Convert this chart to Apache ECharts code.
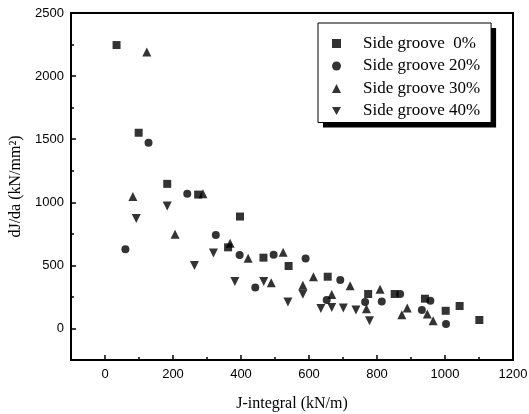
<!DOCTYPE html>
<html>
<head>
<meta charset="utf-8">
<script src="https://cdn.jsdelivr.net/npm/echarts@6/dist/echarts.min.js"></script>
<style>html,body{margin:0;padding:0;background:#fff}#c{width:529px;height:414px}</style>
</head>
<body>
<div id="c"></div>
<script>
var seriesNames = ['Side groove  0%', 'Side groove 20%', 'Side groove 30%', 'Side groove 40%'];
var groove0 = [[34,2246],[99,1551],[183,1146],[274,1061],[397,887],[362,643],[466,561],[540,495],[655,410],[774,273],[852,273],[941,236],[1002,140],[1043,178],[1101,67]];
var groove20 = [[60,627],[128,1471],[242,1067],[326,740],[396,582],[442,325],[496,585],[590,554],[652,225],[692,384],[765,209],[814,214],[868,273],[932,146],[957,220],[1003,35]];
var groove30 = [[82,1045],[123,2190],[206,746],[288,1067],[368,675],[421,556],[489,363],[524,603],[582,342],[613,410],[667,270],[721,339],[769,156],[809,310],[873,109],[889,162],[948,114],[965,61]];
var groove40 = [[92,871],[183,971],[263,498],[319,598],[382,373],[467,373],[538,210],[582,272],[635,159],[667,167],[701,162],[738,146],[778,61]];
var xTickLabels = [0,200,400,600,800,1000,1200];
var xMinorTicks = [100,300,500,700,900,1100];
var yTickLabels = [0,500,1000,1500,2000,2500];
var yMinorTicks = [-250,250,750,1250,1750,2250];

var chart = echarts.init(document.getElementById('c'), null, {renderer:'canvas'});
var serif = '"Liberation Serif","Times New Roman",serif';
var sans = '"Liberation Sans",Arial,sans-serif';
function plain(v){ return String(v); }
function xAxisBase(main){
  return {
    type:'value', min:-100, max:1200, interval:100, position:'bottom',
    axisLine:{show:main, onZero:false, lineStyle:{color:'#000', width:2}},
    splitLine:{show:false},
    axisTick:{show:true, inside:true, length: main?5:3, lineStyle:{color:'#000', width:1.5},
      customValues: main ? xTickLabels : xMinorTicks},
    axisLabel:{show:main, customValues: xTickLabels, formatter:plain, color:'#000', fontFamily:sans, fontSize:13, margin:8},
    name: main ? 'J-integral (kN/m)' : '', nameLocation:'middle', nameGap:36,
    nameTextStyle:{color:'#000', fontFamily:serif, fontSize:16}
  };
}
function yAxisBase(main){
  return {
    type:'value', min:-250, max:2500, interval:250, position:'left',
    axisLine:{show:main, onZero:false, lineStyle:{color:'#000', width:2}},
    splitLine:{show:false},
    axisTick:{show:true, inside:true, length: main?5:3, lineStyle:{color:'#000', width:1.5},
      customValues: main ? yTickLabels : yMinorTicks},
    axisLabel:{show:main, customValues: yTickLabels, formatter:plain, color:'#000', fontFamily:sans, fontSize:13, margin:7},
    name: main ? 'dJ/da (kN/mm\u00B2)' : '', nameLocation:'middle', nameGap:41,
    nameTextStyle:{color:'#000', fontFamily:serif, fontSize:16}
  };
}
var symbols = ['rect','circle','triangle','triangle'];
var legendIcons = ['rect','circle','triangle','path://M0,0 L10,0 L5,9 Z'];
var sizes = [8,8,9,9];
var rot = [0,0,0,180];
var datas = [groove0, groove20, groove30, groove40];
var series = datas.map(function(d,i){
  return {name:seriesNames[i], type:'scatter', data:d, symbol:symbols[i], symbolSize:sizes[i],
    symbolRotate:rot[i], itemStyle:{color:'#000'}, xAxisIndex:0, yAxisIndex:0};
});
var legendData = seriesNames.map(function(n,i){ return {name:n, icon:legendIcons[i]}; });
var legendBase = {
  orient:'vertical', left:318, top:23,
  padding:[12,11,3,14], itemGap:5.5, itemWidth:9, itemHeight:9,
  textStyle:{color:'#000', fontFamily:serif, fontSize:17, lineHeight:16, padding:[0,0,0,17]},
  data:legendData
};
var legendShadow = Object.assign({}, legendBase, {
  backgroundColor:'#fff', borderWidth:0,
  shadowColor:'#000', shadowBlur:0, shadowOffsetX:5, shadowOffsetY:5
});
var legendFrame = Object.assign({}, legendBase, {
  backgroundColor:'transparent', borderColor:'#000', borderWidth:1,
  textStyle:Object.assign({}, legendBase.textStyle, {color:'rgba(0,0,0,0)'}),
  itemStyle:{opacity:0}
});
chart.setOption({
  animation:false,
  backgroundColor:'#fff',
  grid:{left:71, right:16, top:13, bottom:54, outerBoundsMode:'none', containLabel:false,
    show:true, borderColor:'#000', borderWidth:2, backgroundColor:'transparent'},
  xAxis:[xAxisBase(true), xAxisBase(false)],
  yAxis:[yAxisBase(true), yAxisBase(false)],
  legend:[legendShadow, legendFrame],
  series:series
});
</script>
</body>
</html>
